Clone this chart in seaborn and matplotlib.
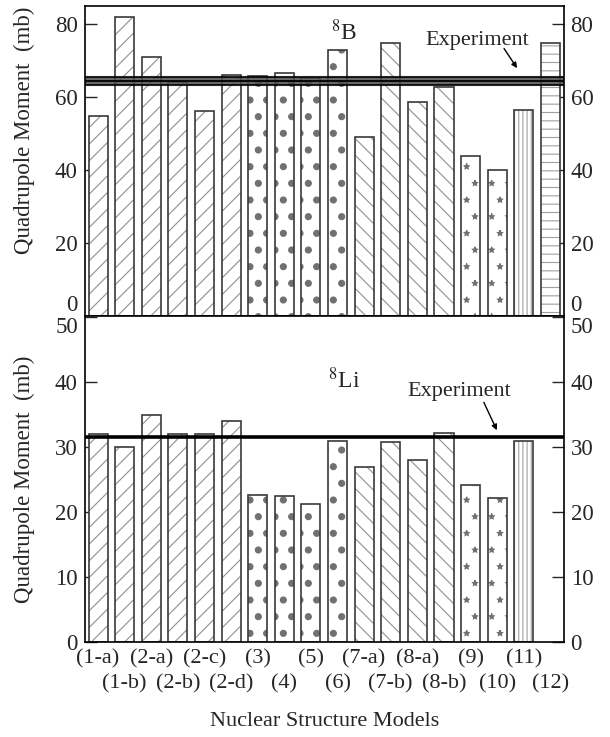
import numpy as np
import pandas as pd
import seaborn as sns
import matplotlib
matplotlib.use("Agg")
import matplotlib.pyplot as plt
import matplotlib.hatch as mhatch

# values
models = ["(1-a)", "(1-b)", "(2-a)", "(2-b)", "(2-c)", "(2-d)", "(3)", "(4)", "(5)", "(6)",
          "(7-a)", "(7-b)", "(8-a)", "(8-b)", "(9)", "(10)", "(11)", "(12)"]
q_b8 = [55, 82, 71, 64.3, 56.2, 66, 65.8, 66.6, 65.3, 73.1,
        49, 75, 58.6, 62.8, 44, 40, 56.4, 75]
q_li8 = [32, 30, 35, 32, 32, 34, 22.6, 22.4, 21.2, 31,
         27, 30.8, 28, 32.2, 24.2, 22.2, 31, np.nan]
exp_b8 = 64.5
exp_b8_err = 1.2
exp_li8 = 31.5

hatches = ["//"] * 6 + ["."] * 4 + ["\\\\"] * 4 + ["*"] * 2 + ["||||", "--"]
hatch_cols = ["#909090"] * 6 + ["#707070"] * 4 + ["#909090"] * 4 + ["#707070"] * 2 + ["#a0a0a0", "#a0a0a0"]

# bigger dots / smaller stars than matplotlib's defaults
mhatch.SmallFilledCircles.size = 0.18
mhatch.Stars.size = 0.16

sns.set_style("ticks")
plt.rcParams["font.family"] = "serif"
plt.rcParams["font.serif"] = ["Liberation Serif", "DejaVu Serif"]
plt.rcParams["mathtext.fontset"] = "stix"
plt.rcParams["hatch.linewidth"] = 0.8

fig = plt.figure(figsize=(6.1, 7.37), dpi=100)
ax1 = fig.add_axes([0.139, 0.571, 0.785, 0.4206])
ax2 = fig.add_axes([0.139, 0.129, 0.785, 0.4423])


def draw_bars(ax, vals):
    df = pd.DataFrame({"model": models, "q": vals})
    sns.barplot(data=df, x="model", y="q", order=models, color="white", width=0.72,
                linewidth=0, errorbar=None, ax=ax)
    for p in ax.patches:
        i = int(round(p.get_x() + p.get_width() / 2))
        p.set_hatch(hatches[i])
        p.set_edgecolor(hatch_cols[i])
    sns.barplot(data=df, x="model", y="q", order=models, color="#3a3a3a", fill=False,
                width=0.72, linewidth=1.2, errorbar=None, ax=ax)


draw_bars(ax1, q_b8)
draw_bars(ax2, q_li8)

# experiment
ax1.axhspan(exp_b8 - exp_b8_err, exp_b8 + exp_b8_err, facecolor="#505050", alpha=0.85,
            edgecolor="black", linewidth=1.5, zorder=3)
ax1.axhline(exp_b8, color="black", linewidth=1.3, zorder=3)
ax2.axhline(exp_li8, color="black", linewidth=2.6, zorder=3)

ax1.text(9.25, 77.8, r"$^{8}$B", ha="center", va="center", fontsize=17)
ax1.text(14.24, 75.6, "Experiment", ha="center", va="center", fontsize=16)
ax1.annotate("", xy=(15.75, 68), xytext=(15.26, 73.4),
             arrowprops=dict(arrowstyle="-|>", lw=1, color="black", shrinkA=0, shrinkB=0,
                             mutation_scale=8))
ax2.text(9.25, 40.3, r"$^{8}$Li", ha="center", va="center", fontsize=17)
ax2.text(13.57, 38.5, "Experiment", ha="center", va="center", fontsize=16)
ax2.annotate("", xy=(14.99, 32.6), xytext=(14.5, 36.9),
             arrowprops=dict(arrowstyle="-|>", lw=1, color="black", shrinkA=0, shrinkB=0,
                             mutation_scale=8))

for ax in (ax1, ax2):
    ax.set_xlim(-0.5, 17.5)
    for s in ax.spines.values():
        s.set_visible(True)
        s.set_linewidth(1.2)
        s.set_color("black")
    ax.tick_params(axis="y", direction="in", length=8.5, width=1, right=True,
                   labelright=True, labelsize=16.5, pad=5)
    ax.set_ylabel("Quadrupole Moment  (mb)", fontsize=16.5)

ax1.set_ylim(0, 85)
ax1.set_yticks([0, 20, 40, 60, 80])
ax1.tick_params(axis="x", bottom=False, labelbottom=False)
ax1.set_xlabel("")
ax1.yaxis.set_label_coords(-0.105, 0.6)

ax2.set_ylim(0, 50.2)
ax2.set_yticks([0, 10, 20, 30, 40, 50])
# staggered labels: even models on the first row, odd on the second
ax2.set_xticks(range(0, len(models), 2), models[0::2])
ax2.set_xticks(range(1, len(models), 2), models[1::2], minor=True)
ax2.tick_params(axis="x", which="major", length=0, labelsize=16, pad=5)
ax2.tick_params(axis="x", which="minor", length=0, labelsize=16, pad=23)
ax2.set_xlabel("Nuclear Structure Models", fontsize=16)
ax2.xaxis.set_label_coords(0.5, -0.215)
ax2.yaxis.set_label_coords(-0.105, 0.5)

t0 = ax1.yaxis.get_major_ticks()[0]
t0.label1.set_va("bottom")
t0.label2.set_va("bottom")
t5 = ax2.yaxis.get_major_ticks()[-1]
t5.label1.set_va("top")
t5.label2.set_va("top")

fig.savefig("out.png", dpi=100)
